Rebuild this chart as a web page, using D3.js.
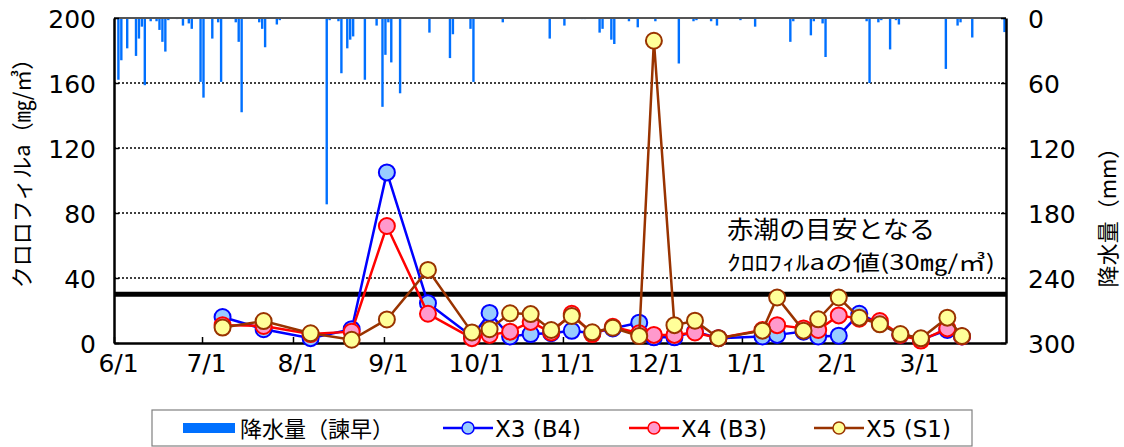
<!DOCTYPE html>
<html>
<head>
<meta charset="utf-8">
<script src="https://cdn.jsdelivr.net/npm/d3@7"></script>
<style>
  body { margin: 0; background: #fff; }
  text { font-family: "DejaVu Sans", "Noto Sans CJK JP", sans-serif; fill: #000; }
  .jp { font-family: "Noto Sans CJK JP", sans-serif; }
</style>
</head>
<body>
<div id="vis"></div>
<script>
// sampling dates and chlorophyll-a (mg/m3)
var sampleDates = ['2018-07-08','2018-07-22','2018-08-07','2018-08-21','2018-09-02','2018-09-16',
    '2018-10-01','2018-10-07','2018-10-14','2018-10-21','2018-10-28','2018-11-04','2018-11-11',
    '2018-11-18','2018-11-27','2018-12-02','2018-12-09','2018-12-16','2018-12-24','2019-01-08',
    '2019-01-13','2019-01-22','2019-01-27','2019-02-03','2019-02-10','2019-02-17','2019-02-24',
    '2019-03-03','2019-03-12','2019-03-17'];
var x3 = [16, 8.5, 3, 8.5, 105, 24.5, 4, 18.5, 4, 5.5, 6, 7.5, 6, 9, 12.5, 3.5, 3.5, 7, 3, 4,
          5, 7, 4, 4.5, 18, 12, 5, 2, 8, 4];
var x4 = [11, 10.5, 5.5, 7, 72, 18, 3, 5, 7, 13, 6.5, 18, 5.5, 10, 6, 5, 5, 6.5, 3, 8,
          11, 9, 8, 17, 15, 13.5, 5, 1.5, 9, 4];
var x5 = [9.5, 13.5, 6, 2, 14.5, 45, 6.5, 8.5, 18.3, 17.8, 8, 16.6, 6.6, 9.4, 4.3, 186, 11, 13.7, 3, 7.6,
          28, 7.6, 14.6, 28, 15.6, 11.5, 5.5, 2.9, 15.6, 4.3];

// daily rainfall at Isahaya (mm)
var rainDates = ['2018-06-02','2018-06-03','2018-06-05','2018-06-08','2018-06-09','2018-06-10','2018-06-11',
    '2018-06-13','2018-06-15','2018-06-16','2018-06-17','2018-06-18','2018-06-19','2018-06-22','2018-06-24',
    '2018-06-26','2018-06-27','2018-06-30','2018-07-01','2018-07-04','2018-07-06','2018-07-07','2018-07-12',
    '2018-07-13','2018-07-14','2018-07-20','2018-07-21','2018-07-22','2018-07-26','2018-07-27','2018-08-12',
    '2018-08-13','2018-08-16','2018-08-17','2018-08-19','2018-08-20','2018-08-21','2018-08-25','2018-08-29',
    '2018-08-31','2018-09-01','2018-09-02','2018-09-03','2018-09-06','2018-09-16','2018-09-23','2018-09-24',
    '2018-09-30','2018-10-01','2018-10-11','2018-10-27','2018-11-01','2018-11-07','2018-11-08','2018-11-13',
    '2018-11-14','2018-11-17','2018-11-18','2018-11-23','2018-11-26','2018-12-02','2018-12-10','2018-12-15',
    '2018-12-16','2018-12-21','2018-12-23','2018-12-31','2019-01-05','2019-01-17','2019-01-18','2019-01-24',
    '2019-01-25','2019-01-28','2019-01-29','2019-02-12','2019-02-13','2019-02-16','2019-02-17','2019-02-20',
    '2019-02-22','2019-02-23','2019-03-11','2019-03-15','2019-03-16','2019-03-20','2019-03-31'];
var rainMm = [57, 39, 28, 35, 19, 8, 62,
    3, 3, 11, 22, 31, 2, 1, 7,
    5, 10, 59, 73.5, 19, 4, 59, 4,
    22, 87, 4, 10, 27, 6, 2, 172,
    2, 3, 51, 28, 20, 17, 57, 7,
    82, 34, 4, 41, 69.5, 13.5, 37, 15,
    10, 59, 4, 19, 7, 1, 1, 13.5,
    10, 20, 24, 3, 8.6, 3, 42, 3,
    2, 3, 7, 2, 8, 22, 3, 16,
    3, 5, 36, 3, 60, 4, 2, 29,
    2, 6, 47, 7, 4, 18, 13];

var monthTicks = ['2018-06-01','2018-07-01','2018-08-01','2018-09-01','2018-10-01','2018-11-01',
    '2018-12-01','2019-01-01','2019-02-01','2019-03-01'];
var chlTicks = [0, 40, 80, 120, 160, 200];
var rainTicks = [0, 60, 120, 180, 240, 300];
var threshold = 30;

var seriesNames = ['X3 (B4)', 'X4 (B3)', 'X5 (S1)'];
var seriesValues = [x3, x4, x5];
var lineColors = ['#0000ff', '#ff0000', '#993300'];
var fillColors = ['#99ccff', '#ff99cc', '#ffff99'];

var parse = d3.timeParse('%Y-%m-%d');

var width = 1124, height = 447;
var margin = {left: 114, right: 118, top: 18, bottom: 104};
var drawWidth = width - margin.left - margin.right,
    drawHeight = height - margin.top - margin.bottom;

var svg = d3.select('#vis').append('svg')
    .attr('width', width).attr('height', height);

var xScale = d3.scaleTime()
    .domain([parse('2018-06-01'), parse('2019-04-01')])
    .range([0, drawWidth]);
var yScale = d3.scaleLinear().domain([0, 200]).range([drawHeight, 0]);
var rScale = d3.scaleLinear().domain([0, 300]).range([0, drawHeight]);

var g = svg.append('g').attr('transform', `translate(${margin.left},${margin.top})`);

// gridlines
g.selectAll('.grid').data(chlTicks.filter((d) => d > 0 && d < 200))
    .enter().append('line')
    .attr('x1', 0).attr('x2', drawWidth)
    .attr('y1', (d) => yScale(d)).attr('y2', (d) => yScale(d))
    .attr('stroke', '#000').attr('stroke-width', 1.3).attr('stroke-dasharray', '2,2');

// rainfall bars hanging from the top
var dayW = xScale(parse('2018-06-02')) - xScale(parse('2018-06-01'));
g.selectAll('.rain').data(rainDates)
    .enter().append('rect')
    .attr('x', (d) => xScale(parse(d)) + dayW / 2 - 1.2)
    .attr('y', 0)
    .attr('width', 2.4)
    .attr('height', (d, i) => rScale(rainMm[i]))
    .attr('fill', '#0070ff');

// threshold
g.append('line')
    .attr('x1', 0).attr('x2', drawWidth)
    .attr('y1', yScale(threshold)).attr('y2', yScale(threshold))
    .attr('stroke', '#000').attr('stroke-width', 5);

// frame
g.append('line').attr('x1', 0).attr('x2', drawWidth).attr('y1', 0).attr('y2', 0)
    .attr('stroke', '#555').attr('stroke-width', 2);

// axes
var xAxis = d3.axisBottom(xScale)
    .tickValues(monthTicks.map(parse))
    .tickSizeInner(-6).tickSizeOuter(0)
    .tickFormat(d3.timeFormat('%-m/%-d'));
var xg = g.append('g').attr('transform', `translate(0,${drawHeight})`).call(xAxis);
xg.selectAll('text').attr('dy', '1.05em').attr('dx', 4).style('font-size', '25px');

var yAxis = d3.axisLeft(yScale).tickValues(chlTicks).tickSizeInner(-5).tickSizeOuter(0);
var yg = g.append('g').call(yAxis);
yg.selectAll('text').attr('x', -18).attr('dy', '0.36em').style('font-size', '25px');

var rAxis = d3.axisRight(rScale).tickValues(rainTicks).tickSizeInner(-5).tickSizeOuter(0);
var rg = g.append('g').attr('transform', `translate(${drawWidth},0)`).call(rAxis);
rg.selectAll('text').attr('x', 22).attr('dy', '0.36em').style('font-size', '25px');

[xg, yg, rg].forEach(function(a) {
    a.select('.domain').attr('stroke', '#000').attr('stroke-width', 2.5);
    a.selectAll('.tick line').attr('stroke', '#000').attr('stroke-width', 1.5);
});

// series
var line = d3.line()
    .x((d) => xScale(parse(d.date)))
    .y((d) => yScale(d.value));

seriesValues.forEach(function(vals, s) {
    var data = sampleDates.map((d, i) => ({date: d, value: vals[i]}));
    var sg = g.append('g');
    sg.append('path').datum(data)
        .attr('d', line)
        .attr('fill', 'none')
        .attr('stroke', lineColors[s])
        .attr('stroke-width', 2.5);
    sg.selectAll('circle').data(data)
        .enter().append('circle')
        .attr('cx', (d) => xScale(parse(d.date)))
        .attr('cy', (d) => yScale(d.value))
        .attr('r', 8)
        .attr('fill', fillColors[s])
        .attr('stroke', lineColors[s])
        .attr('stroke-width', 2);
});

// annotation
svg.append('text').attr('class', 'jp')
    .attr('x', 727).attr('y', 238)
    .attr('textLength', 208).attr('lengthAdjust', 'spacingAndGlyphs')
    .style('font-size', '24px')
    .text('赤潮の目安となる');
svg.append('text').attr('class', 'jp')
    .attr('x', 727).attr('y', 270)
    .attr('textLength', 268).attr('lengthAdjust', 'spacingAndGlyphs')
    .style('font-size', '21px')
    .text('ｸﾛﾛﾌｨﾙaの値(30㎎/㎥)');

// axis titles
svg.append('text').attr('class', 'jp')
    .attr('transform', 'translate(30,168) rotate(-90)')
    .attr('text-anchor', 'middle')
    .style('font-size', '22px')
    .text('クロロフィルa（㎎/㎥）');
svg.append('text').attr('class', 'jp')
    .attr('transform', 'translate(1116,212) rotate(-90)')
    .attr('text-anchor', 'middle')
    .style('font-size', '22px')
    .text('降水量（mm）');

// legend
var lg = svg.append('g');
lg.append('rect')
    .attr('x', 152).attr('y', 410).attr('width', 820).attr('height', 36)
    .attr('fill', '#fff').attr('stroke', '#808080').attr('stroke-width', 1.2);
lg.append('rect').attr('x', 183).attr('y', 423).attr('width', 52).attr('height', 10).attr('fill', '#0070ff');
lg.append('text').attr('class', 'jp').attr('x', 240).attr('y', 437)
    .style('font-size', '22px').text('降水量（諫早）');
var legX = [443, 629, 814];
seriesNames.forEach(function(name, s) {
    lg.append('line').attr('x1', legX[s]).attr('x2', legX[s] + 50)
        .attr('y1', 428).attr('y2', 428)
        .attr('stroke', lineColors[s]).attr('stroke-width', 2.5);
    lg.append('circle').attr('cx', legX[s] + 25).attr('cy', 428).attr('r', 6)
        .attr('fill', fillColors[s]).attr('stroke', lineColors[s]).attr('stroke-width', 1.5);
    lg.append('text').attr('x', legX[s] + 52).attr('y', 437)
        .style('font-size', '23px').text(name);
});
</script>
</body>
</html>
